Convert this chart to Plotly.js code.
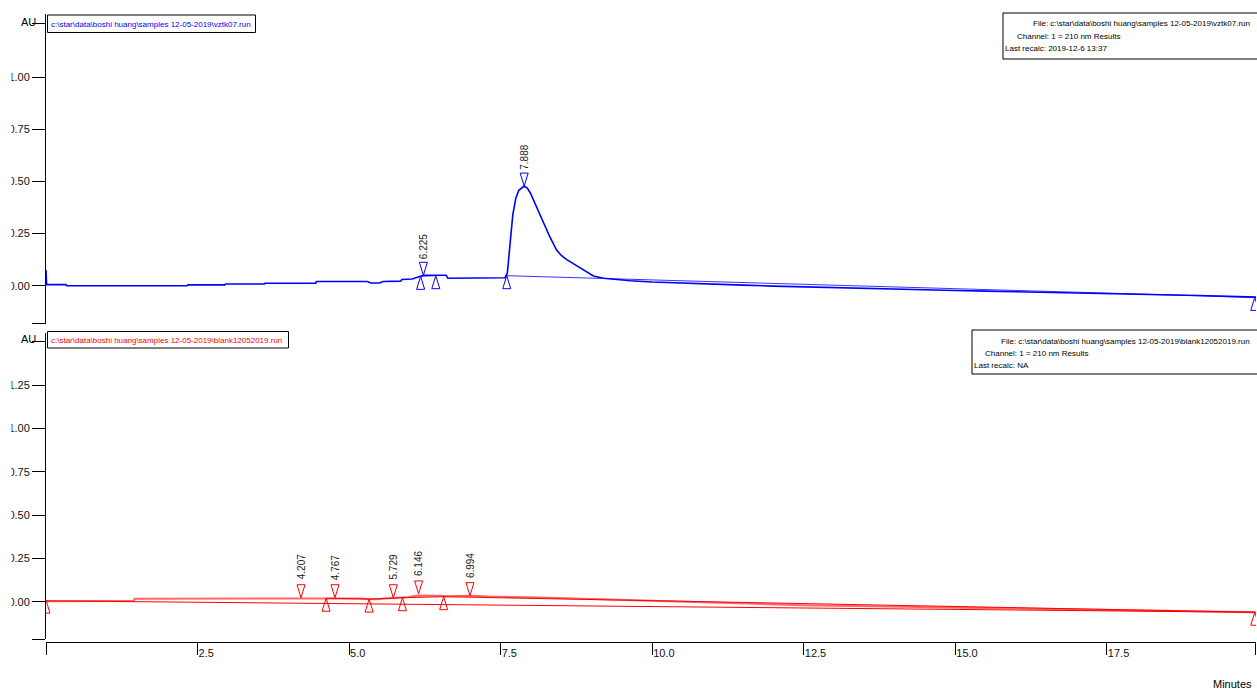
<!DOCTYPE html>
<html><head><meta charset="utf-8">
<script src="https://cdn.plot.ly/plotly-3.0.1.min.js"></script>
<style>
html,body{margin:0;padding:0;overflow:hidden;background:#fff;width:1257px;height:690px;}
#chart{position:absolute;left:-9px;top:0;width:1266px;height:690px;}
</style>
</head><body><div id="chart"></div>
<script>
// ---------- sample run (vztk07.run), blue ----------
const sampleTime = [0, 0.01, 0.33, 0.34, 2.33, 2.34, 2.95, 2.96, 3.6, 3.61, 4.45, 4.46, 5.3, 5.36, 5.5, 5.56, 5.85, 5.87, 6.04, 6.12, 6.18, 6.225, 6.35, 6.6, 6.63, 7.1, 7.57, 7.61, 7.65, 7.70, 7.75, 7.80, 7.888, 7.94, 7.99, 8.09, 8.20, 8.31, 8.42, 8.5, 8.59, 8.81, 9.03, 9.2, 9.36, 9.64, 10.0, 10.5, 11.0, 11.5, 12.0, 12.5, 13.0, 13.5, 14.0, 14.5, 15.0, 15.5, 16.0, 16.5, 17.0, 17.5, 18.0, 18.5, 19.0, 19.5, 19.96];
const sampleAU = [0.075, 0.005, 0.005, 0.0, 0.0, 0.004, 0.004, 0.008, 0.008, 0.012, 0.012, 0.02, 0.02, 0.013, 0.013, 0.02, 0.022, 0.03, 0.032, 0.04, 0.045, 0.05, 0.05, 0.05, 0.036, 0.036, 0.038, 0.06, 0.17, 0.34, 0.42, 0.458, 0.478, 0.468, 0.445, 0.379, 0.3, 0.235, 0.172, 0.145, 0.125, 0.085, 0.047, 0.036, 0.031, 0.024, 0.018, 0.012, 0.008, 0.003, -0.002, -0.006, -0.01, -0.014, -0.017, -0.02, -0.023, -0.026, -0.029, -0.031, -0.033, -0.035, -0.039, -0.043, -0.047, -0.051, -0.055];
const sampleBaseTime = [6.18, 6.43, null, 7.6, 19.94];
const sampleBaseAU = [0.045, 0.048, null, 0.048, -0.056];
const samplePeakTime = [6.225, 7.888];
const samplePeakAU = [0.05, 0.478];
const samplePeakLabel = ["6.225", "7.888"];
const sampleBoundTime = [6.18, 6.43, 7.6, 19.94];
const sampleBoundAU = [0.045, 0.048, 0.048, -0.056];

// ---------- blank run (blank12052019.run), red ----------
const blankTime = [0, 0.55, 0.56, 1.45, 1.46, 3.0, 4.2, 4.6, 4.75, 5.0, 5.2, 5.3, 5.45, 5.6, 5.85, 5.95, 6.05, 6.146, 6.5, 6.6, 6.994, 7.25, 7.3, 8.0, 8.5, 9.0, 9.5, 10.0, 10.5, 11.0, 11.5, 12.0, 12.5, 13.0, 13.5, 14.0, 14.5, 15.0, 15.5, 16.0, 16.5, 17.0, 17.5, 18.0, 18.5, 19.0, 19.5, 19.96];
const blankAU = [0.003, 0.003, 0.006, 0.006, 0.017, 0.018, 0.021, 0.02, 0.023, 0.021, 0.019, 0.015, 0.014, 0.019, 0.022, 0.025, 0.032, 0.036, 0.034, 0.031, 0.035, 0.034, 0.03, 0.025, 0.02, 0.014, 0.008, 0.002, -0.003, -0.007, -0.012, -0.016, -0.02, -0.023, -0.026, -0.029, -0.032, -0.035, -0.037, -0.04, -0.042, -0.044, -0.047, -0.05, -0.052, -0.055, -0.058, -0.061];
const blankBaseTime = [0, 19.94, null, 4.62, 5.33, 5.88, 6.56, 19.94];
const blankBaseAU = [0.005, -0.061, null, 0.02, 0.015, 0.023, 0.029, -0.061];
const blankPeakTime = [4.207, 4.767, 5.729, 6.146, 6.994];
const blankPeakAU = [0.023, 0.023, 0.023, 0.045, 0.035];
const blankPeakLabel = ["4.207", "4.767", "5.729", "6.146", "6.994"];
const blankBoundTime = [0, 4.62, 5.33, 5.88, 6.56, 19.94];
const blankBoundAU = [0.009, 0.02, 0.015, 0.023, 0.029, -0.061];

// ---------- ticks and texts ----------
const xTickVals = [0, 2.5, 5.0, 7.5, 10.0, 12.5, 15.0, 17.5, 19.955];
const xTickText = ["", "2.5", "5.0", "7.5", "10.0", "12.5", "15.0", "17.5", ""];
const topTickVals = [-0.181, 0, 0.25, 0.5, 0.75, 1.0, 1.256];
const topTickText = ["", "0.00", "0.25", "0.50", "0.75", "1.00", ""];
const botTickVals = [-0.216, 0, 0.25, 0.5, 0.75, 1.0, 1.25, 1.5];
const botTickText = ["", "0.00", "0.25", "0.50", "0.75", "1.00", "1.25", ""];
const sampleFile = "c:\\star\\data\\boshi huang\\samples 12-05-2019\\vztk07.run";
const blankFile = "c:\\star\\data\\boshi huang\\samples 12-05-2019\\blank12052019.run";
const sampleInfo = ["File: " + sampleFile, "Channel: 1 = 210 nm Results", "Last recalc: 2019-12-6 13:37"];
const blankInfo = ["File: " + blankFile, "Channel: 1 = 210 nm Results", "Last recalc: NA"];

// ---------- layout geometry ----------
const OFF = 9, W = 1266, H = 690, ML = 55, MR = 1, MT = 14, MB = 48;
const PW = W - ML - MR, PH = H - MT - MB;
const px = p => (p + OFF - ML) / PW;      // page x -> paper
const py = p => (H - MB - p) / PH;        // page y -> paper
const FONT = "Liberation Sans, Arial, sans-serif";
const BLUE = "#0000ff", RED = "#ff0000";

const traces = [
  {x: sampleTime, y: sampleAU, xaxis: 'x', yaxis: 'y', mode: 'lines', line: {color: BLUE, width: 1.6}},
  {x: sampleBaseTime, y: sampleBaseAU, xaxis: 'x', yaxis: 'y', mode: 'lines', line: {color: BLUE, width: 0.8}, connectgaps: false},
  {x: blankTime, y: blankAU, xaxis: 'x', yaxis: 'y2', mode: 'lines', line: {color: 'rgba(255,0,0,0.6)', width: 2}},
  {x: blankBaseTime, y: blankBaseAU, xaxis: 'x', yaxis: 'y2', mode: 'lines', line: {color: RED, width: 1}, connectgaps: false}
];

const shapes = [];
const annotations = [];
function addMarkers(times, vals, yref, color, down) {
  times.forEach((t, i) => {
    shapes.push({
      type: 'path', xref: 'x', yref: yref,
      xsizemode: 'pixel', ysizemode: 'pixel', xanchor: t, yanchor: vals[i],
      path: down ? 'M-4,13 L4,13 L0,0 Z' : 'M-4,-13 L4,-13 L0,0 Z',
      line: {color: color, width: 1}, fillcolor: 'rgba(0,0,0,0)'
    });
  });
}
addMarkers(samplePeakTime, samplePeakAU, 'y', BLUE, true);
addMarkers(sampleBoundTime, sampleBoundAU, 'y', BLUE, false);
addMarkers(blankPeakTime, blankPeakAU, 'y2', RED, true);
addMarkers(blankBoundTime, blankBoundAU, 'y2', RED, false);

function addLabels(times, vals, labels, yref, shift) {
  times.forEach((t, i) => {
    annotations.push({x: t, y: vals[i], xref: 'x', yref: yref, text: labels[i], showarrow: false,
      textangle: -90, xanchor: 'center', yanchor: 'bottom', yshift: shift,
      font: {family: FONT, size: 10, color: '#222'}});
  });
}
addLabels(samplePeakTime, samplePeakAU, samplePeakLabel, 'y', 14);
addLabels(blankPeakTime, blankPeakAU, blankPeakLabel, 'y2', 16);

function txt(text, xPage, yPage, xanchor, size, color) {
  annotations.push({x: px(xPage), y: py(yPage), xref: 'paper', yref: 'paper', text: text, showarrow: false,
    xanchor: xanchor, yanchor: 'middle', borderpad: 0,
    font: {family: FONT, size: size, color: color}});
}
function box(x0, y0, x1, y1) {
  shapes.push({type: 'rect', xref: 'paper', yref: 'paper', x0: px(x0), x1: px(x1), y0: py(y1), y1: py(y0),
    line: {color: '#000', width: 1}, fillcolor: 'rgba(255,255,255,0)', layer: 'above'});
}
// the original picture is cropped at its left edge, cutting the first digit of the tick labels
shapes.push({type: 'rect', xref: 'paper', yref: 'paper', x0: px(-12), x1: px(11.5), y0: py(700), y1: py(-10),
  line: {width: 0}, fillcolor: '#ffffff', layer: 'above'});
// "AU" labels and "Minutes"
txt("AU", 37, 22, 'right', 11, '#000');
txt("AU", 37, 339, 'right', 11, '#000');
txt("Minutes", 1253, 684, 'right', 11, '#000');
// file legends
box(47.5, 15, 255.5, 32.5);
txt(sampleFile, 50, 24, 'left', 8, BLUE);
box(47.5, 331.5, 288.5, 348);
txt(blankFile, 50, 340, 'left', 8, RED);
// info boxes
box(1003, 13, 1259, 59);
txt(sampleInfo[0], 1032, 23.5, 'left', 8, '#000');
txt(sampleInfo[1], 1015.5, 36, 'left', 8, '#000');
txt(sampleInfo[2], 1004, 48.5, 'left', 8, '#000');
box(972, 330, 1259, 374);
txt(blankInfo[0], 999.5, 341, 'left', 8, '#000');
txt(blankInfo[1], 984, 353, 'left', 8, '#000');
txt(blankInfo[2], 973.5, 365.5, 'left', 8, '#000');

const yCommon = {
  showline: true, linecolor: '#000', linewidth: 1, ticks: 'outside', ticklen: 13, tickcolor: '#000', tickwidth: 1,
  showgrid: false, zeroline: false, tickmode: 'array', tickfont: {family: FONT, size: 11, color: '#111'}, anchor: 'x', fixedrange: true
};
const layout = {
  width: W, height: H, margin: {l: ML, r: MR, t: MT, b: MB, pad: 0},
  paper_bgcolor: '#fff', plot_bgcolor: '#fff', showlegend: false, hovermode: false,
  font: {family: FONT, size: 11, color: '#000'},
  xaxis: {domain: [0, 1], range: [0, 19.96], anchor: 'free', position: 0, showline: true, linecolor: '#000', linewidth: 1,
    ticks: 'outside', ticklen: 12, tickcolor: '#000', tickmode: 'array', tickvals: xTickVals, ticktext: xTickText,
    ticklabelposition: 'outside right', ticklabelstandoff: 1, showgrid: false, zeroline: false,
    tickfont: {family: FONT, size: 11, color: '#111'}, fixedrange: true},
  yaxis: Object.assign({}, yCommon, {domain: [py(323.7), 1], range: [-0.1823, 1.3037], tickvals: topTickVals, ticktext: topTickText}),
  yaxis2: Object.assign({}, yCommon, {domain: [py(639.3), py(333)], range: [-0.2171, 1.5514], tickvals: botTickVals, ticktext: botTickText}),
  shapes: shapes, annotations: annotations
};
Plotly.newPlot('chart', traces, layout, {staticPlot: true, displayModeBar: false});
</script>
</body></html>
